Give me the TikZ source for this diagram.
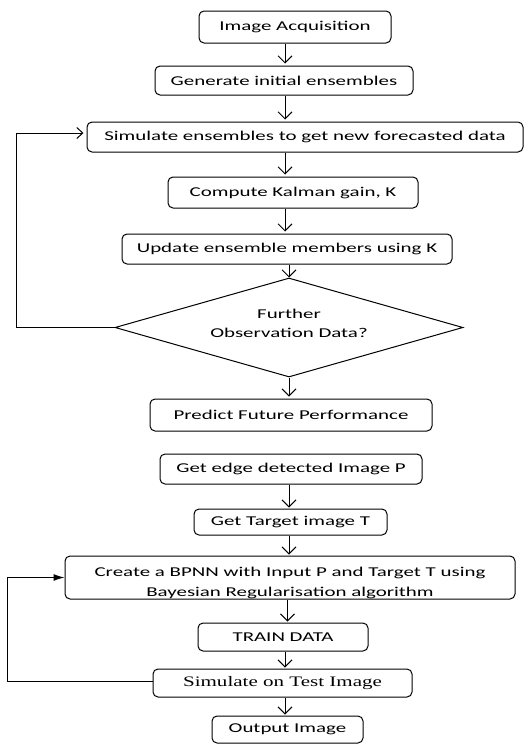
\documentclass[tikz,border=0pt]{standalone}
\usepackage{fontspec}
\setmainfont{Carlito}[FakeStretch=1.55]
\newfontfamily\timesf{Liberation Serif}[FakeStretch=1.45]
\usetikzlibrary{arrows.meta,shapes.geometric,calc}
\begin{document}
\begin{tikzpicture}[x=1pt,y=-1pt,
  txt/.style={font=\fontsize{13.5}{19}\selectfont},
  box/.style={draw, rounded corners=5pt, line width=1pt, inner sep=0pt, align=center, txt},
  arr/.style={-{Straight Barb[length=7pt,width=14pt]}, line width=1pt, shorten >=2pt},
  farr/.style={-{Latex[length=11pt,width=7pt]}, line width=1pt},
  oarr/.style={-{Straight Barb[length=6pt,width=11pt]}, line width=1pt, shorten >=3pt}]
\useasboundingbox (0,0) rectangle (530,744);
\coordinate (xa) at (285,0);
\coordinate (xb) at (289,0);
\coordinate (xc) at (287.5,0);
\coordinate (l1) at (16,0);
\coordinate (l2) at (7,0);

\node[box, minimum width=192pt, minimum height=32pt] (acq) at (295,27) {Image Acquisition};
\node[box, minimum width=258pt, minimum height=29pt] (gen) at (284,80.5) {Generate initial ensembles};
\node[box, minimum width=436pt, minimum height=30pt] (sim) at (305,137) {Simulate ensembles to get new forecasted data};
\node[box, minimum width=250pt, minimum height=31pt] (kal) at (293,192.5) {Compute Kalman gain, K};
\node[box, minimum width=330pt, minimum height=30pt] (upd) at (287,249) {Update ensemble members using K};
\node[draw, diamond, aspect=3.5, minimum width=348pt, minimum height=99pt, inner sep=0pt,
      line width=1pt, txt] (dia) at (289,327.5) {};
\node[txt, align=center, inner sep=0pt] (diat) at (289,323) {Further\\Observation Data?};
\node[box, minimum width=282pt, minimum height=32pt] (pred) at (291,415) {Predict Future Performance};

\node[box, minimum width=262pt, minimum height=30pt] (edge) at (291,469) {Get edge detected Image P};
\node[box, minimum width=193pt, minimum height=26pt] (tgt) at (290.5,522) {Get Target image T};
\node[box, minimum width=450pt, minimum height=43pt,
      path picture={
        \node[txt, anchor=base, inner sep=0pt] at ([yshift=-20pt]path picture bounding box.north) {Create a BPNN with Input P and Target T using};
        \node[txt, anchor=base, inner sep=0pt] at ([yshift=-40.5pt]path picture bounding box.north) {Bayesian Regularisation algorithm};
      }] (bpnn) at (290,577.5) {};
\node[box, minimum width=170pt, minimum height=28pt] (train) at (283,637) {TRAIN DATA};
\node[box, minimum width=259pt, minimum height=28pt] (simt) at (282.5,683) {\timesf\fontsize{14.5}{18}\selectfont Simulate on Test Image};
\node[box, minimum width=151pt, minimum height=27pt] (out) at (287.5,729.5) {Output Image};

\draw[arr] (acq.south -| xa) -- (gen.north -| xa);
\draw[arr] (gen.south -| xa) -- (sim.north -| xa);
\draw[arr] (sim.south -| xa) -- (kal.north -| xa);
\draw[arr] (kal.south -| xa) -- (upd.north -| xa);
\draw[arr, shorten >=0pt] (upd.south -| xb) -- (dia.north);
\draw[arr] (dia.south) -- (pred.north -| xb);
\draw[oarr] (dia.west) -- (dia.west -| l1) |- ([yshift=4pt]sim.west);

\draw[arr, shorten >=1pt] (edge.south -| xb) -- (tgt.north -| xb);
\draw[arr, shorten >=1pt] (tgt.south -| xb) -- (bpnn.north -| xb);
\draw[arr, shorten >=1pt] (bpnn.south -| xc) -- (train.north -| xc);
\draw[arr, shorten >=1pt] (train.south -| xa) -- (simt.north -| xa);
\draw[arr, shorten >=1pt] (simt.south -| xa) -- (out.north -| xa);
\draw[farr] ([yshift=2pt]simt.west) -- ([yshift=2pt]simt.west -| l2) |- (bpnn.west);
\end{tikzpicture}
\end{document}
